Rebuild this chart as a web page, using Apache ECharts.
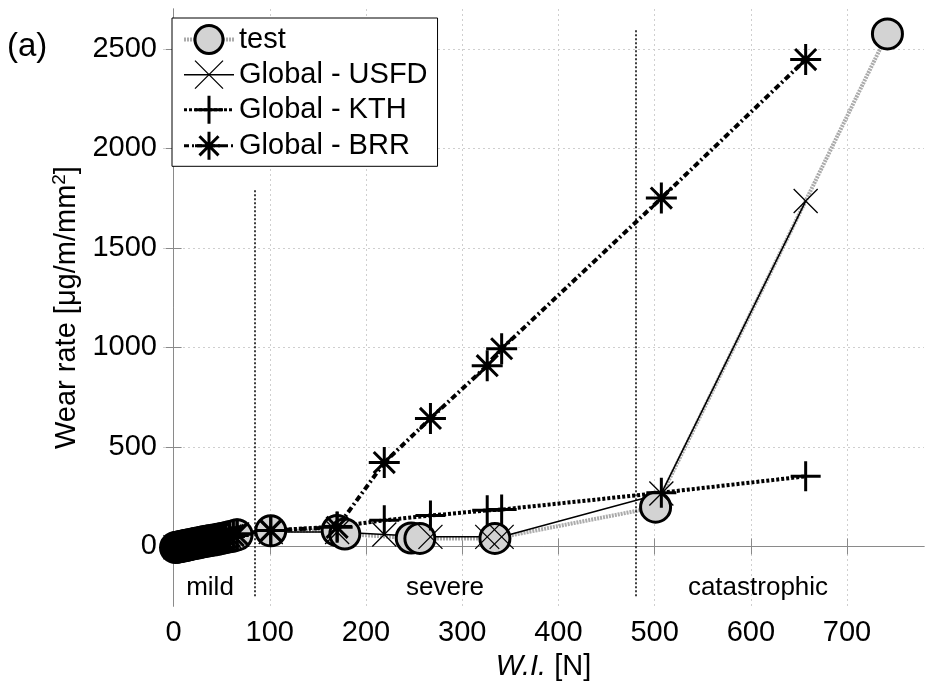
<!DOCTYPE html>
<html>
<head>
<meta charset="utf-8">
<script src="https://cdn.jsdelivr.net/npm/echarts@6/dist/echarts.min.js"></script>
<style>
  html, body { margin: 0; padding: 0; background: #fff; }
  #chart { width: 925px; height: 686px; }
</style>
</head>
<body>
<div id="chart"></div>
<script>
// measured data
const testX = [2, 4, 6, 8, 10, 12, 14, 16, 19, 22, 25, 28, 31, 34, 38, 42, 46, 50, 54, 58, 62, 66, 101, 170, 178, 247, 256, 334, 501, 742];
const testY = [-6, -4, -2, 0, 2, 4, 6, 8, 11, 14, 17, 20, 23, 26, 29, 32, 36, 40, 44, 48, 52, 58, 78, 80, 62, 42, 40, 40, 197, 2575];

const modelX = [2, 4, 6, 8, 10, 12, 14, 16, 19, 22, 25, 28, 31, 34, 38, 42, 46, 50, 54, 58, 62, 66, 101, 170, 219, 267, 326, 341, 507, 657];
const usfdY = [-4, -2, 0, 2, 4, 6, 8, 10, 13, 16, 19, 22, 25, 28, 31, 34, 38, 42, 46, 50, 54, 60, 72, 72, 60, 48, 48, 48, 266, 1735];
const kthY = [-4, -2, 0, 2, 4, 6, 8, 10, 13, 16, 19, 22, 25, 28, 31, 34, 38, 42, 46, 50, 55, 62, 80, 100, 131, 155, 181, 185, 270, 352];
const brrY = [-4, -2, 0, 2, 4, 6, 8, 10, 13, 16, 19, 22, 25, 28, 31, 34, 38, 42, 46, 50, 55, 62, 80, 96, 421, 643, 908, 993, 1750, 2446];

const xTicks = [0, 100, 200, 300, 400, 500, 600, 700];
const yTicks = [0, 500, 1000, 1500, 2000, 2500];

// regime boundaries [x, yBottom, yTop]
const boundaries = [[84, -250, 1800], [480, -250, 2600]];

const pairs = (xs, ys) => xs.map((x, i) => [x, ys[i]]);

const FONT = 'Liberation Sans, Arial, Helvetica, sans-serif';
const frameColor = '#8a8a8a';

const chart = echarts.init(document.getElementById('chart'));

const gridLine = { show: true, lineStyle: { color: '#cfcfcf', type: [2, 3], width: 1 } };

chart.setOption({
  animation: false,
  textStyle: { fontFamily: FONT },
  grid: { left: 163, right: 1, top: 9, bottom: 76 },
  legend: {
    orient: 'vertical',
    left: 172,
    top: 18,
    padding: [6, 10, 5, 10],
    itemGap: 5,
    itemWidth: 50,
    itemHeight: 35,
    backgroundColor: '#fff',
    borderColor: '#000',
    borderWidth: 1,
    borderRadius: 0,
    textStyle: { fontSize: 29, color: '#000', fontFamily: FONT },
    data: [
      { name: 'test', lineStyle: { color: '#ababab', width: 4, type: [2, 1] },
        itemStyle: { color: '#d3d3d3', borderColor: '#000', borderWidth: 3 } },
      { name: 'Global - USFD', lineStyle: { color: '#000', width: 1.5 },
        itemStyle: { color: '#000', borderColor: '#000', borderWidth: 1.3 } },
      { name: 'Global - KTH', lineStyle: { color: '#000', width: 3, type: [3, 2] },
        itemStyle: { color: '#000', borderColor: '#000', borderWidth: 3 } },
      { name: 'Global - BRR', lineStyle: { color: '#000', width: 3, type: [5, 3, 2, 3] },
        itemStyle: { color: '#000', borderColor: '#000', borderWidth: 3 } }
    ]
  },
  xAxis: [
    {
      type: 'value',
      min: -11,
      max: 780,
      name: '{i|W.I.} [N]',
      nameLocation: 'middle',
      nameGap: 36,
      nameTextStyle: {
        fontSize: 29, color: '#000',
        rich: { i: { fontSize: 29, fontStyle: 'italic', color: '#000' } }
      },
      axisLine: { lineStyle: { color: frameColor, width: 1 } },
      axisTick: { inside: true, length: 8, customValues: xTicks, lineStyle: { color: frameColor } },
      axisLabel: { customValues: xTicks, fontSize: 29, color: '#000', margin: 12, formatter: v => String(v) },
      splitLine: gridLine
    },
    {
      type: 'value',
      position: 'top',
      min: -11,
      max: 780,
      axisLine: { show: true, lineStyle: { color: frameColor, width: 1 } },
      axisTick: { inside: true, length: 8, customValues: xTicks, lineStyle: { color: frameColor } },
      axisLabel: { show: false },
      splitLine: { show: false }
    }
  ],
  yAxis: [
    {
      type: 'value',
      min: -300,
      max: 2700,
      name: 'Wear rate [μg/m/mm{sup|2}]',
      nameLocation: 'middle',
      nameGap: 60,
      nameTextStyle: {
        fontSize: 29, color: '#000',
        rich: { sup: { fontSize: 19, color: '#000', verticalAlign: 'top', padding: [0, 0, 14, 0] } }
      },
      axisLine: { show: true, lineStyle: { color: frameColor, width: 1 } },
      axisTick: { inside: true, length: 8, customValues: yTicks, lineStyle: { color: frameColor } },
      axisLabel: { customValues: yTicks, fontSize: 29, color: '#000', margin: 6, formatter: v => String(v) },
      splitLine: gridLine
    },
    {
      type: 'value',
      position: 'right',
      min: -300,
      max: 2700,
      axisLine: { show: true, lineStyle: { color: frameColor, width: 1 } },
      axisTick: { inside: true, length: 8, customValues: yTicks, lineStyle: { color: frameColor } },
      axisLabel: { show: false },
      splitLine: { show: false }
    }
  ],
  series: [
    {
      name: 'test',
      type: 'line',
      data: pairs(testX, testY),
      symbol: 'circle',
      symbolSize: 30,
      itemStyle: { color: '#d3d3d3', borderColor: '#000', borderWidth: 3 },
      lineStyle: { color: '#ababab', width: 4, type: [2, 1] },
      emphasis: { disabled: true },
      markLine: {
        silent: true,
        symbol: 'none',
        label: { show: false },
        lineStyle: { color: '#000', type: [2, 2], width: 1.5 },
        data: boundaries.map(b => [{ coord: [b[0], b[1]] }, { coord: [b[0], b[2]] }])
      }
    },
    {
      name: 'Global - USFD',
      type: 'line',
      data: pairs(modelX, usfdY),
      symbol: 'path://M0,0L10,10M10,0L0,10',
      symbolSize: 24,
      itemStyle: { color: '#000', borderColor: '#000', borderWidth: 1.3 },
      lineStyle: { color: '#000', width: 1.5, type: 'solid' },
      emphasis: { disabled: true }
    },
    {
      name: 'Global - KTH',
      type: 'line',
      data: pairs(modelX, kthY),
      symbol: 'path://M5,0L5,10M0,5L10,5',
      symbolSize: 30,
      itemStyle: { color: '#000', borderColor: '#000', borderWidth: 3 },
      lineStyle: { color: '#000', width: 4, type: [3, 2] },
      emphasis: { disabled: true }
    },
    {
      name: 'Global - BRR',
      type: 'line',
      data: pairs(modelX, brrY),
      symbol: 'path://M5,0L5,10M0,5L10,5M1.6,1.6L8.4,8.4M8.4,1.6L1.6,8.4',
      symbolSize: 31,
      itemStyle: { color: '#000', borderColor: '#000', borderWidth: 3 },
      lineStyle: { color: '#000', width: 4, type: [6, 3, 2, 3] },
      emphasis: { disabled: true }
    }
  ],
  graphic: [
    { type: 'text', left: 7, top: 30, style: { text: '(a)', fontSize: 33, fill: '#000', fontFamily: FONT } },
    { type: 'text', x: 210, y: 588, style: { text: 'mild', fontSize: 26, fill: '#000', fontFamily: FONT, align: 'center', verticalAlign: 'middle' } },
    { type: 'text', x: 445, y: 588, style: { text: 'severe', fontSize: 26, fill: '#000', fontFamily: FONT, align: 'center', verticalAlign: 'middle' } },
    { type: 'text', x: 758, y: 588, style: { text: 'catastrophic', fontSize: 26, fill: '#000', fontFamily: FONT, align: 'center', verticalAlign: 'middle' } }
  ]
});
</script>
</body>
</html>
